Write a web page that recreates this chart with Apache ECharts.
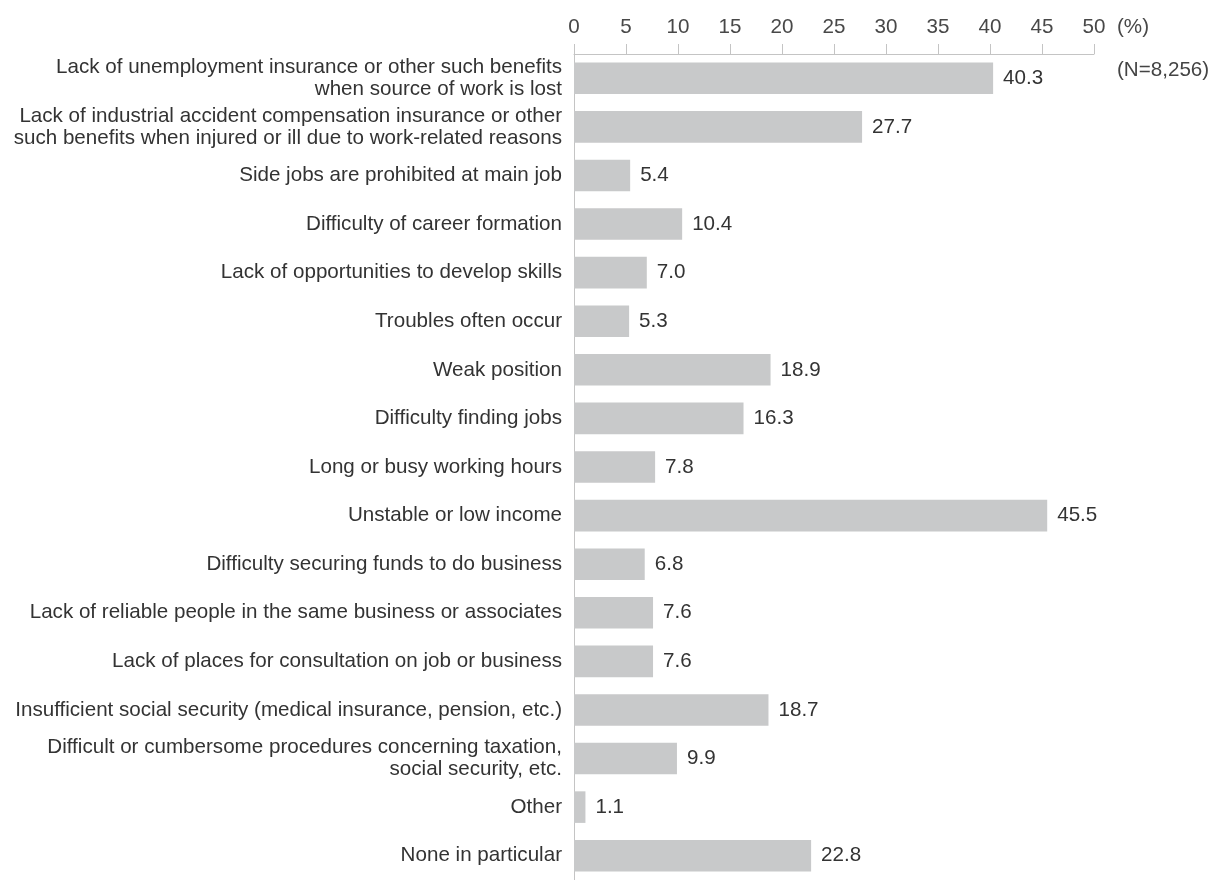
<!DOCTYPE html>
<html><head><meta charset="utf-8">
<script src="https://cdn.jsdelivr.net/npm/echarts@6/dist/echarts.min.js"></script>
<style>html,body{margin:0;padding:0;background:#fff}#c{width:1214px;height:880px}</style>
</head><body><div id="c"></div>
<script>
const categories = [
  "Lack of unemployment insurance or other such benefits\nwhen source of work is lost",
  "Lack of industrial accident compensation insurance or other\nsuch benefits when injured or ill due to work-related reasons",
  "Side jobs are prohibited at main job",
  "Difficulty of career formation",
  "Lack of opportunities to develop skills",
  "Troubles often occur",
  "Weak position",
  "Difficulty finding jobs",
  "Long or busy working hours",
  "Unstable or low income",
  "Difficulty securing funds to do business",
  "Lack of reliable people in the same business or associates",
  "Lack of places for consultation on job or business",
  "Insufficient social security (medical insurance, pension, etc.)",
  "Difficult or cumbersome procedures concerning taxation,\nsocial security, etc.",
  "Other",
  "None in particular"
];
const values = [40.3, 27.7, 5.4, 10.4, 7.0, 5.3, 18.9, 16.3, 7.8, 45.5, 6.8, 7.6, 7.6, 18.7, 9.9, 1.1, 22.8];
const unitLabel = "(%)";
const sampleLabel = "(N=8,256)";

const FONT = "'Liberation Sans', Arial, sans-serif";
const FS = 20.6;
const chart = echarts.init(document.getElementById('c'), null, {renderer: 'canvas'});
chart.setOption({
  animation: false,
  grid: {left: 574, right: 120, top: 54, height: 835, containLabel: false},
  xAxis: {
    type: 'value', position: 'top', min: 0, max: 50, interval: 5,
    axisLine: {show: true, lineStyle: {color: '#c4c4c4', width: 1}},
    axisTick: {show: true, length: 10, lineStyle: {color: '#c4c4c4'}},
    axisLabel: {fontFamily: FONT, fontSize: FS, color: '#484848', margin: 16},
    splitLine: {show: false}
  },
  yAxis: {
    type: 'category', inverse: true, data: categories,
    axisLine: {show: true, lineStyle: {color: '#c4c4c4', width: 1}},
    axisTick: {show: false},
    axisLabel: {fontFamily: FONT, fontSize: FS, color: '#333', margin: 12, lineHeight: 22, align: 'right'}
  },
  series: [{
    type: 'bar', data: values, barCategoryGap: '35%',
    itemStyle: {color: '#c8c9ca'},
    label: {show: true, position: 'right', distance: 10, fontFamily: FONT, fontSize: FS, color: '#333',
      formatter: p => p.value.toFixed(1)}
  }],
  graphic: [
    {type: 'text', left: 1117, top: 17, style: {text: unitLabel, fontFamily: FONT, fontSize: FS, fill: '#484848'}},
    {type: 'text', left: 1117, top: 60, style: {text: sampleLabel, fontFamily: FONT, fontSize: FS, fill: '#444'}}
  ]
});
</script></body></html>
